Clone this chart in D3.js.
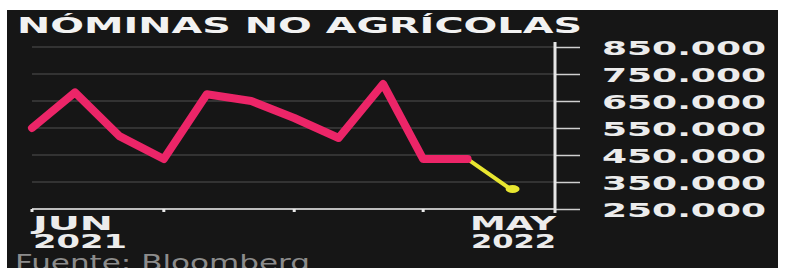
<!DOCTYPE html>
<html lang="es">
<head>
<meta charset="utf-8">
<title>Nóminas no agrícolas</title>
<script src="https://cdn.jsdelivr.net/npm/d3@7"></script>
<style>
  html, body { margin: 0; padding: 0; background: #fff; }
  svg { display: block; }
  text { font-family: "DejaVu Sans", sans-serif; }
</style>
</head>
<body>
<svg id="chart" width="785" height="268"></svg>
<script>
// datos
var months = ["2021-06", "2021-07", "2021-08", "2021-09", "2021-10", "2021-11",
              "2021-12", "2022-01", "2022-02", "2022-03", "2022-04"];
var payrolls = [550000, 682000, 520000, 435000, 675000, 650000,
                587000, 513000, 713000, 435000, 435000];
// estimación para mayo (tramo amarillo)
var forecastMonths = ["2022-04", "2022-05"];
var forecastValues = [435000, 324000];

var yTicks = [250000, 350000, 450000, 550000, 650000, 750000, 850000];
var yTickLabels = ["250.000", "350.000", "450.000", "550.000", "650.000", "750.000", "850.000"];
var xLabels = [["JUN", "2021"], ["MAY", "2022"]];

var parseMonth = d3.timeParse("%Y-%m");

var svg = d3.select("#chart");

// fondo oscuro
svg.append("rect")
  .attr("x", 7).attr("y", 10)
  .attr("width", 771).attr("height", 258)
  .attr("fill", "#161616");

var x = d3.scaleTime()
  .domain([parseMonth("2021-06"), parseMonth("2022-06")])
  .range([32, 555]);

var y = d3.scaleLinear()
  .domain([250000, 850000])
  .range([209, 47]);

// titulo
svg.append("text")
  .attr("x", 17).attr("y", 33)
  .attr("font-size", 22).attr("font-weight", "bold")
  .attr("fill", "#f2f2f2")
  .attr("textLength", 565).attr("lengthAdjust", "spacingAndGlyphs")
  .text("NÓMINAS NO AGRÍCOLAS");

// lineas de cuadricula
svg.append("g")
  .selectAll("line")
  .data(yTicks.slice(1))
  .enter().append("line")
  .attr("x1", x.range()[0]).attr("x2", x.range()[1])
  .attr("y1", function (d) { return y(d); })
  .attr("y2", function (d) { return y(d); })
  .attr("stroke", "#3e3e3e")
  .attr("stroke-width", 1.5);

// eje x
svg.append("line")
  .attr("x1", 32).attr("x2", 555)
  .attr("y1", y(250000)).attr("y2", y(250000))
  .attr("stroke", "#bdbdbd").attr("stroke-width", 2);

// marcas trimestrales desde junio
svg.append("g")
  .selectAll("rect")
  .data(d3.timeMonth.range(parseMonth("2021-06"), parseMonth("2022-05"), 3))
  .enter().append("rect")
  .attr("x", function (d) { return x(d) - 1.5; })
  .attr("y", y(250000))
  .attr("width", 3).attr("height", 3)
  .attr("fill", "#e8e8e8");

// eje y (derecha)
var yAxis = d3.axisRight(y)
  .tickValues(yTicks)
  .tickSize(25)
  .tickFormat(function (d, i) { return yTickLabels[i]; });

var gy = svg.append("g")
  .attr("transform", "translate(555,0)")
  .call(yAxis);
gy.select(".domain").remove();
gy.selectAll(".tick line").attr("stroke", "#cfcfcf").attr("stroke-width", 1.5);
gy.selectAll(".tick text")
  .attr("x", 47)
  .attr("dy", "0.36em")
  .attr("font-size", 20).attr("font-weight", "bold")
  .attr("font-family", "DejaVu Sans")
  .attr("fill", "#ececec")
  .attr("textLength", 164).attr("lengthAdjust", "spacingAndGlyphs");

svg.append("line")
  .attr("x1", 555).attr("x2", 555)
  .attr("y1", 42).attr("y2", 213)
  .attr("stroke", "#e6e6e6").attr("stroke-width", 3);

// etiquetas de fecha
var xl = svg.append("g").attr("font-size", 19).attr("font-weight", "bold").attr("fill", "#ececec");
xl.append("text").attr("x", 33).attr("y", 230)
  .attr("textLength", 80).attr("lengthAdjust", "spacingAndGlyphs").text(xLabels[0][0]);
xl.append("text").attr("x", 33).attr("y", 248)
  .attr("textLength", 94).attr("lengthAdjust", "spacingAndGlyphs").text(xLabels[0][1]);
xl.append("text").attr("x", 556).attr("y", 230).attr("text-anchor", "end")
  .attr("textLength", 86).attr("lengthAdjust", "spacingAndGlyphs").text(xLabels[1][0]);
xl.append("text").attr("x", 556).attr("y", 248).attr("text-anchor", "end")
  .attr("textLength", 85).attr("lengthAdjust", "spacingAndGlyphs").text(xLabels[1][1]);

// lineas de datos
var line = d3.line()
  .x(function (d) { return x(d[0]); })
  .y(function (d) { return y(d[1]); });

svg.append("path")
  .datum(forecastMonths.map(function (m, i) { return [parseMonth(m), forecastValues[i]]; }))
  .attr("d", line)
  .attr("fill", "none")
  .attr("stroke", "#e8e630")
  .attr("stroke-width", 4)
  .attr("stroke-linecap", "round");

svg.append("ellipse")
  .attr("cx", x(parseMonth(forecastMonths[1])) + 2)
  .attr("cy", y(forecastValues[1]))
  .attr("rx", 7).attr("ry", 4)
  .attr("fill", "#e8e630");

svg.append("path")
  .datum(months.map(function (m, i) { return [parseMonth(m), payrolls[i]]; }))
  .attr("d", line)
  .attr("fill", "none")
  .attr("stroke", "#ec2568")
  .attr("stroke-width", 8)
  .attr("stroke-linejoin", "round")
  .attr("stroke-linecap", "round");

// fuente
svg.append("text")
  .attr("x", 15).attr("y", 270)
  .attr("font-size", 21)
  .attr("fill", "#8c8c8c")
  .attr("textLength", 295).attr("lengthAdjust", "spacingAndGlyphs")
  .text("Fuente: Bloomberg");
</script>
</body>
</html>
